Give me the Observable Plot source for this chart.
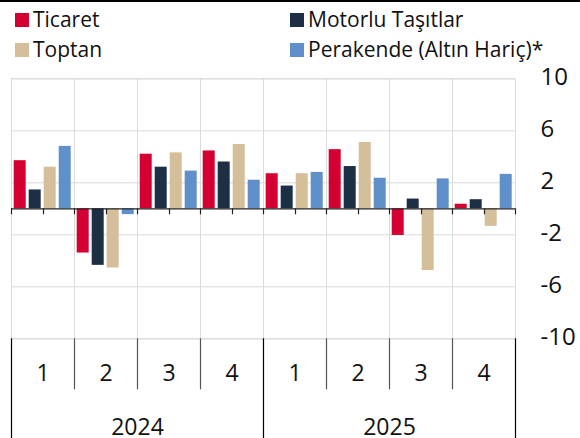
<!DOCTYPE html>
<html>
<head>
<meta charset="utf-8">
<script src="https://cdn.jsdelivr.net/npm/d3@7"></script>
<script src="https://cdn.jsdelivr.net/npm/@observablehq/plot@0.6"></script>
<style>
  html, body { margin: 0; padding: 0; background: #fff; }
  #wrap { position: relative; width: 580px; height: 438px; font-family: "Open Sans", sans-serif; color: #111; overflow: hidden; }
  .topline { position: absolute; top: 0; left: 0; width: 580px; height: 2px; background: #000; }
  .sw { position: absolute; width: 14px; height: 14px; }
  .lt { position: absolute; font-size: 21px; line-height: 24px; white-space: nowrap; }
  #chart { position: absolute; top: 64px; left: 0; }
</style>
</head>
<body>
<div id="wrap">
  <div class="topline"></div>
  <div id="legend"></div>
  <div id="chart"></div>
</div>
<script>
// ---- data ----
const periods = ["2024-1","2024-2","2024-3","2024-4","2025-1","2025-2","2025-3","2025-4"];
const quarters = ["1","2","3","4","1","2","3","4"];
const years = ["2024","2025"];
const yearMid = ["2024-2","2025-2"];
const series = ["Ticaret","Motorlu Taşıtlar","Toptan","Perakende (Altın Hariç)*"];
const colors = ["#d50032","#1c2f45","#d5be9a","#6090c9"];
const ticaret   = [3.7, -3.4, 4.2, 4.45, 2.7, 4.55, -2.05, 0.35];
const motorlu   = [1.45, -4.35, 3.2, 3.6, 1.75, 3.25, 0.75, 0.7];
const toptan    = [3.2, -4.55, 4.3, 4.95, 2.7, 5.1, -4.75, -1.35];
const perakende = [4.8, -0.45, 2.9, 2.2, 2.8, 2.35, 2.3, 2.65];
const yTicks = [-10, -6, -2, 2, 6, 10];

const seriesValues = [ticaret, motorlu, toptan, perakende];
const rows = [];
periods.forEach((p, i) => {
  series.forEach((s, j) => rows.push({period: p, series: s, value: seriesValues[j][i]}));
});
const quarterRows = periods.map((p, i) => ({period: p, q: quarters[i]}));
const yearRows = years.map((y, i) => ({mid: yearMid[i], year: y}));

// ---- legend ----
const legend = document.getElementById("legend");
const legPos = [[15, 0], [290, 0], [15, 1], [290, 1]];
series.forEach((name, k) => {
  const [lx, row] = legPos[k];
  const sw = document.createElement("div");
  sw.className = "sw";
  sw.style.left = lx + "px";
  sw.style.top = (13 + row * 30) + "px";
  sw.style.background = colors[k];
  legend.appendChild(sw);
  const t = document.createElement("div");
  t.className = "lt";
  t.style.left = (lx + 18) + "px";
  t.style.top = (7 + row * 30) + "px";
  t.textContent = name;
  legend.appendChild(t);
});

// ---- chart ----
const W = 580, H = 374;
const plot = Plot.plot({
  width: W,
  height: H,
  marginTop: 14.3,
  marginBottom: 99.7,
  marginLeft: 9.3,
  marginRight: 62.7,
  style: {fontFamily: "Open Sans, sans-serif", fontSize: "22px", color: "#111", background: "#fff", overflow: "visible"},
  fx: {domain: periods, padding: 0, axis: null, label: null},
  x: {domain: series, paddingInner: 0.2, paddingOuter: 0.2, axis: null, label: null},
  y: {domain: [-10, 10], axis: null, label: null},
  color: {domain: series, range: colors},
  marks: [
    Plot.gridY(yTicks, {stroke: "#dadada", strokeOpacity: 1, strokeWidth: 1}),
    Plot.frame({stroke: "#dadada", strokeWidth: 1}),
    Plot.barY(rows, {fx: "period", x: "series", y: "value", fill: "series"}),
    Plot.ruleY([0], {stroke: "#222", strokeWidth: 1.2}),
    Plot.axisY({anchor: "right", ticks: yTicks, tickSize: 0, tickPadding: 25, tickFormat: d => String(d), fontSize: 24, dy: -1.5, label: null}),
    Plot.text(quarterRows, {fx: "period", text: "q", frameAnchor: "bottom", dy: 35, lineAnchor: "middle", fontSize: 23}),
    Plot.text(yearRows, {fx: "mid", text: "year", frameAnchor: "bottom-right", textAnchor: "middle", dy: 88.5, lineAnchor: "middle", fontSize: 23})
  ]
});
document.getElementById("chart").appendChild(plot);

// ---- separators and zero-line ticks, placed with the plot's own scales ----
const fx = plot.scale("fx");
const ys = plot.scale("y");
const bw = fx.bandwidth;
const y0 = ys.apply(0);
const yb = ys.apply(-10);
const svg = d3.select(plot);
const g = svg.append("g");
const line = (x, ya, yb2, color, w) => g.append("line")
  .attr("x1", x).attr("x2", x).attr("y1", ya).attr("y2", yb2)
  .attr("stroke", color).attr("stroke-width", w);
periods.forEach((p, i) => {
  const x0 = Math.round(fx.apply(p)) + 0.5;
  const xm = Math.round(fx.apply(p) + bw / 2) + 0.5;
  line(x0, y0, y0 + 6, "#222", 1.2);
  line(xm, y0, y0 + 6, "#222", 1.2);
  if (i % 4 === 0) line(x0, yb, H, "#000", 1.2);
  else line(x0, yb, yb + 51, "#555", 1.2);
});
const xEnd = Math.round(fx.apply(periods[periods.length - 1]) + bw) + 0.5;
line(xEnd, y0, y0 + 6, "#222", 1.2);
line(xEnd, yb, H, "#000", 1.2);
</script>
</body>
</html>
